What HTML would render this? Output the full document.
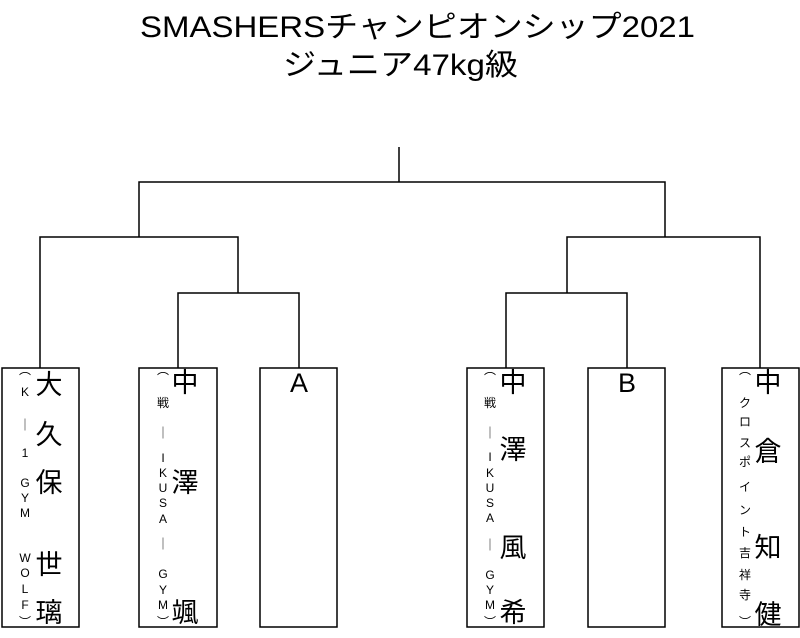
<!DOCTYPE html>
<html><head><meta charset="utf-8"><style>html,body{margin:0;padding:0;background:#fff}svg{display:block}</style></head>
<body>
<svg width="800" height="638" xmlns="http://www.w3.org/2000/svg" font-family="'Liberation Sans','Noto Sans CJK JP',sans-serif">
<text x="140" y="37" font-size="30" textLength="555" lengthAdjust="spacingAndGlyphs">SMASHERSチャンピオンシップ2021</text>
<text x="283" y="75" font-size="30" textLength="235" lengthAdjust="spacingAndGlyphs">ジュニア47kg級</text>
<g stroke="#000" stroke-width="1.5" fill="none">
<path d="M399 147V182M139 237V182H665V237M40 368V237H238V293M178 368V293H299V368M567 293V237H760V368M506 368V293H627V368"/>
<rect x="2" y="368" width="77" height="259"/>
<rect x="139" y="368" width="78" height="259"/>
<rect x="260" y="368" width="77" height="259"/>
<rect x="467" y="368" width="77" height="259"/>
<rect x="588" y="368" width="77" height="259"/>
<rect x="722" y="368" width="77" height="259"/>
</g>
<g font-size="27" text-anchor="middle" dominant-baseline="central">
<text x="49" y="385">大</text><text x="49" y="435">久</text><text x="49" y="483">保</text><text x="49" y="565">世</text><text x="49" y="613">璃</text>
<text x="185" y="383">中</text><text x="185" y="483">澤</text><text x="185" y="613">颯</text>
<text x="299" y="383">A</text><text x="627" y="383">B</text>
<text x="513" y="383">中</text><text x="513" y="450">澤</text><text x="513" y="548">風</text><text x="513" y="613">希</text>
<text x="768" y="383">中</text><text x="768" y="452">倉</text><text x="768" y="548">知</text><text x="768" y="615">健</text>
</g>
<g font-size="12" text-anchor="middle" dominant-baseline="central">
<text x="25" y="370">︵</text><text x="25" y="392">K</text><text x="25" y="425">｜</text><text x="25" y="453">1</text><text x="25" y="483">G</text><text x="25" y="498">Y</text><text x="25" y="513">M</text><text x="25" y="558">W</text><text x="25" y="573">O</text><text x="25" y="589">L</text><text x="25" y="605">F</text><text x="25" y="622">︶</text>
<text x="163" y="370">︵</text><text x="163" y="403">戦</text><text x="163" y="433">｜</text><text x="163" y="458">I</text><text x="163" y="473">K</text><text x="163" y="488">U</text><text x="163" y="503">S</text><text x="163" y="519">A</text><text x="163" y="544">｜</text><text x="163" y="574">G</text><text x="163" y="590">Y</text><text x="163" y="605">M</text><text x="163" y="622">︶</text>
<text x="490" y="370">︵</text><text x="490" y="403">戦</text><text x="490" y="433">｜</text><text x="490" y="457">I</text><text x="490" y="473">K</text><text x="490" y="488">U</text><text x="490" y="503">S</text><text x="490" y="518">A</text><text x="490" y="545">｜</text><text x="490" y="575">G</text><text x="490" y="590">Y</text><text x="490" y="605">M</text><text x="490" y="622">︶</text>
<text x="745" y="370">︵</text><text x="745" y="403">ク</text><text x="745" y="422">ロ</text><text x="745" y="443">ス</text><text x="745" y="462">ポ</text><text x="745" y="487">イ</text><text x="745" y="510">ン</text><text x="745" y="532">ト</text><text x="745" y="553">吉</text><text x="745" y="575">祥</text><text x="745" y="595">寺</text><text x="745" y="622">︶</text>
</g>
</svg>
</body></html>
